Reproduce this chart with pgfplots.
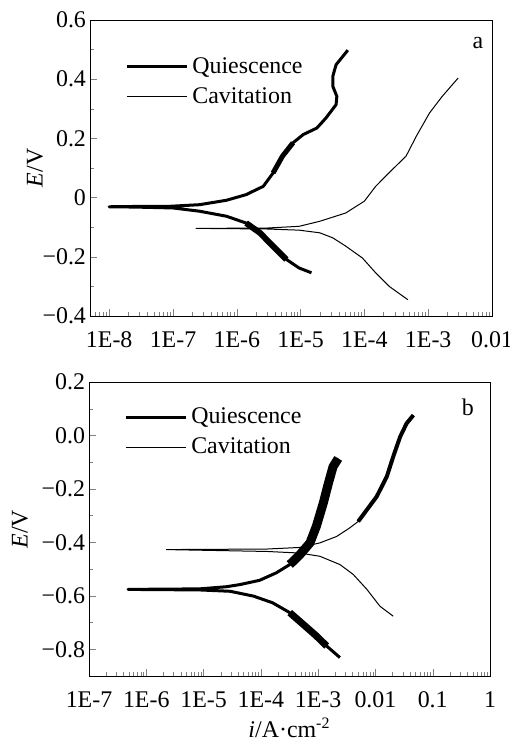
\documentclass[border=0pt]{standalone}
\usepackage{fontspec}
\setmainfont{Liberation Serif}
\usepackage{pgfplots}
\pgfplotsset{compat=1.18}

\pgfplotsset{
  tafel/.style={
    scale only axis,
    tick pos=left, tick align=inside,
    major tick length=3.5bp, minor tick length=2bp,
    minor y tick num=1,
    tick label style={font=\fontsize{12}{14}\selectfont},
    label style={font=\fontsize{12}{14}\selectfont},
    xticklabel style={yshift=-4.5bp},
    yticklabel style={xshift=1.5bp},
    ylabel={\textit{E}/V},
    legend style={draw=none, fill=none, font=\fontsize{12}{14}\selectfont,
      cells={anchor=west}, row sep=1.5bp, inner sep=0pt},
  },
  legend image code/.code={\draw[#1] (0bp,0bp) -- (30bp,0bp);},
  quiet/.style={black, line width=1.5bp, line join=round},
  cavi/.style={black, line width=0.5bp, line join=round},
}

\begin{document}
\begin{tikzpicture}
\path[use as bounding box] (-45bp,-213bp) rectangle (210bp,158bp);

% panel a
\begin{axis}[tafel, xmode=log,
  width=201bp, height=148bp,
  xmin=5e-9, xmax=1e-2,
  ymin=-0.4, ymax=0.6,
  ytick={-0.4,-0.2,0,0.2,0.4,0.6},
  yticklabels={−0.4,−0.2,0,0.2,0.4,0.6},
  xtick={1e-8,1e-7,1e-6,1e-5,1e-4,1e-3,1e-2},
  xticklabels={1E-8,1E-7,1E-6,1E-5,1E-4,1E-3,0.01},
  minor xtick={6e-9,7e-9,8e-9,9e-9,
    2e-8,3e-8,4e-8,5e-8,6e-8,7e-8,8e-8,9e-8,
    2e-7,3e-7,4e-7,5e-7,6e-7,7e-7,8e-7,9e-7,
    2e-6,3e-6,4e-6,5e-6,6e-6,7e-6,8e-6,9e-6,
    2e-5,3e-5,4e-5,5e-5,6e-5,7e-5,8e-5,9e-5,
    2e-4,3e-4,4e-4,5e-4,6e-4,7e-4,8e-4,9e-4,
    2e-3,3e-3,4e-3,5e-3,6e-3,7e-3,8e-3,9e-3},
  ylabel style={at={(axis description cs:-0.137,0.5)}, anchor=center},
  legend style={at={(axis description cs:0.087,0.888)}, anchor=north west},
]
\addplot[quiet] coordinates {
  (1.48e-5,-0.254) (9.5e-6,-0.238) (6.0e-6,-0.209) (3.7e-6,-0.164)
  (2.3e-6,-0.119) (1.4e-6,-0.086) (6.9e-7,-0.063) (2.6e-7,-0.046)
  (1.0e-7,-0.035) (2.5e-8,-0.032) (1.0e-8,-0.031)
  (2.5e-8,-0.030) (7.9e-8,-0.030) (2.6e-7,-0.024) (6.9e-7,-0.009)
  (1.4e-6,0.010) (2.6e-6,0.038) (3.7e-6,0.083) (5.2e-6,0.140)
  (7.6e-6,0.185) (1.1e-5,0.213) (1.8e-5,0.235) (2.5e-5,0.269)
  (3.6e-5,0.314) (3.7e-5,0.342) (3.2e-5,0.376) (3.2e-5,0.410)
  (3.6e-5,0.449) (5.5e-5,0.498)
};
\addlegendentry{Quiescence}
\addplot[cavi] coordinates {
  (4.8e-4,-0.345) (2.45e-4,-0.300) (1.5e-4,-0.254) (9.3e-5,-0.204)
  (5.1e-5,-0.164) (3.2e-5,-0.136) (2.0e-5,-0.119) (9.5e-6,-0.110)
  (2.9e-6,-0.106) (2.3e-7,-0.104)
  (2.9e-6,-0.103) (9.5e-6,-0.097) (2.0e-5,-0.080) (5.1e-5,-0.052)
  (1.0e-4,-0.012) (1.5e-4,0.038) (2.75e-4,0.095) (4.5e-4,0.140)
  (6.5e-4,0.207) (1.05e-3,0.286) (1.66e-3,0.342) (2.95e-3,0.404)
};
\addlegendentry{Cavitation}
% noisy stretches
\addplot[black, line width=3bp, forget plot] coordinates {
  (1.4e-6,-0.086) (2.3e-6,-0.119) (3.7e-6,-0.164) (6.0e-6,-0.209)
};
\addplot[black, line width=2.5bp, forget plot] coordinates {
  (3.7e-6,0.083) (5.2e-6,0.140) (7.6e-6,0.185)
};
\node[font=\fontsize{12}{14}\selectfont] at (axis description cs:0.965,0.922) {a};
\end{axis}

% panel b
\begin{axis}[tafel, xmode=log,
  at={(-0.5bp,-180bp)}, anchor=south west,
  width=200.5bp, height=147bp,
  xmin=1e-7, xmax=1,
  ymin=-0.9, ymax=0.2,
  ytick={-0.8,-0.6,-0.4,-0.2,0,0.2},
  yticklabels={−0.8,−0.6,−0.4,−0.2,0.0,0.2},
  xtick={1e-7,1e-6,1e-5,1e-4,1e-3,1e-2,1e-1,1},
  xticklabels={1E-7,1E-6,1E-5,1E-4,1E-3,0.01,0.1,1},
  minor xtick={
    2e-7,3e-7,4e-7,5e-7,6e-7,7e-7,8e-7,9e-7,
    2e-6,3e-6,4e-6,5e-6,6e-6,7e-6,8e-6,9e-6,
    2e-5,3e-5,4e-5,5e-5,6e-5,7e-5,8e-5,9e-5,
    2e-4,3e-4,4e-4,5e-4,6e-4,7e-4,8e-4,9e-4,
    2e-3,3e-3,4e-3,5e-3,6e-3,7e-3,8e-3,9e-3,
    2e-2,3e-2,4e-2,5e-2,6e-2,7e-2,8e-2,9e-2,
    2e-1,3e-1,4e-1,5e-1,6e-1,7e-1,8e-1,9e-1},
  xlabel={\textit{i}/A·cm\textsuperscript{-2}},
  xlabel style={yshift=2bp},
  ylabel style={at={(axis description cs:-0.172,0.5)}, anchor=center},
  legend style={at={(axis description cs:0.087,0.926)}, anchor=north west},
]
\addplot[quiet] coordinates {
  (2.4e-3,-0.831) (1.41e-3,-0.788) (9.3e-4,-0.750) (5.5e-4,-0.707)
  (3.2e-4,-0.663) (1.6e-4,-0.626) (7.4e-5,-0.601) (2.9e-5,-0.583)
  (8.5e-6,-0.578) (4.8e-7,-0.576)
  (8.5e-6,-0.574) (2.5e-5,-0.566) (4.3e-5,-0.558) (9.5e-5,-0.542)
  (1.86e-4,-0.514) (3.2e-4,-0.483) (4.8e-4,-0.446) (7.2e-4,-0.402)
  (9.3e-4,-0.340) (1.23e-3,-0.253) (1.51e-3,-0.179) (1.82e-3,-0.117)
  (2.24e-3,-0.086)
};
\addlegendentry{Quiescence}
\addplot[cavi] coordinates {
  (2.04e-2,-0.676) (1.2e-2,-0.639) (7.1e-3,-0.576) (4.1e-3,-0.520)
  (2.4e-3,-0.483) (1.07e-3,-0.452) (4.8e-4,-0.440) (1.26e-4,-0.434)
  (2.24e-6,-0.427)
  (1.26e-4,-0.425) (4.8e-4,-0.419) (1.07e-3,-0.402) (2.1e-3,-0.378)
  (3.5e-3,-0.347) (5.0e-3,-0.322) (7.1e-3,-0.278) (1.05e-2,-0.229)
  (1.58e-2,-0.154) (2.04e-2,-0.080) (2.7e-2,-0.005) (3.5e-2,0.045)
  (4.6e-2,0.076)
};
\addlegendentry{Cavitation}
% noisy stretches
\addplot[black, line width=4.5bp, forget plot] coordinates {
  (3.2e-4,-0.483) (4.8e-4,-0.446) (7.2e-4,-0.402) (9.3e-4,-0.340)
  (1.23e-3,-0.253) (1.51e-3,-0.179) (1.82e-3,-0.117) (2.24e-3,-0.086)
};
\addplot[black, line width=3.5bp, forget plot] coordinates {
  (3.2e-4,-0.663) (5.5e-4,-0.707) (9.3e-4,-0.750) (1.41e-3,-0.788)
};
\addplot[black, line width=2bp, forget plot] coordinates {
  (5.0e-3,-0.322) (7.1e-3,-0.278) (1.05e-2,-0.229) (1.58e-2,-0.154)
  (2.04e-2,-0.080) (2.7e-2,-0.005) (3.5e-2,0.045) (4.6e-2,0.076)
};
\node[font=\fontsize{12}{14}\selectfont] at (axis description cs:0.945,0.915) {b};
\end{axis}
\end{tikzpicture}
\end{document}
